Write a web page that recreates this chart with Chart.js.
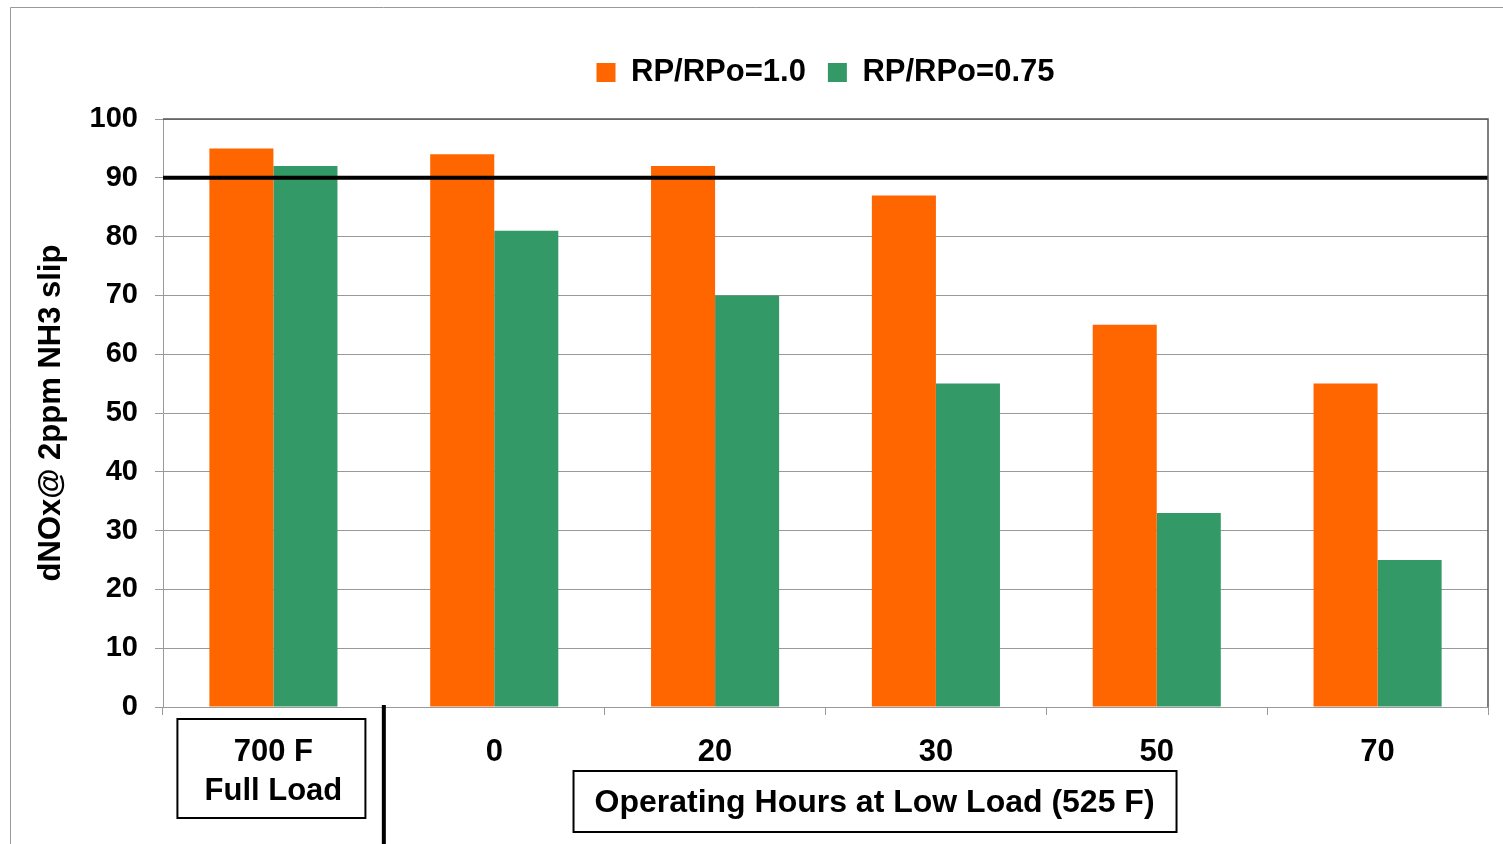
<!DOCTYPE html>
<html>
<head>
<meta charset="utf-8">
<script src="https://cdn.jsdelivr.net/npm/chart.js@4"></script>
<style>
  html, body { margin: 0; padding: 0; background: #fff; }
  #wrap { width: 1503px; height: 844px; }
</style>
</head>
<body>
<div id="wrap"><canvas id="chart"></canvas></div>
<script>
// data
const categories = [["700 F", "Full Load"], "0", "20", "30", "50", "70"];
const rp100 = [95, 94, 92, 87, 65, 55];   // RP/RPo=1.0
const rp075 = [92, 81, 70, 55, 33, 25];   // RP/RPo=0.75
const seriesNames = ["RP/RPo=1.0", "RP/RPo=0.75"];
const targetLine = 90;
const yTitle = "dNOx@ 2ppm NH3 slip";
const xTitle = "Operating Hours at Low Load (525 F)";

const FONT = "'Liberation Sans', Arial, sans-serif";

// extra drawing: frame, 90% line, boxes round the axis labels
const decorations = {
    id: 'decorations',
    afterInit(chart) {
        // leave some room between legend and plot
        const fit = chart.legend.fit;
        chart.legend.fit = function () {
            fit.call(this);
            this.height += 21;
        };
    },
    beforeDraw(chart) {
        const ctx = chart.ctx;
        ctx.save();
        ctx.strokeStyle = "#999";
        ctx.lineWidth = 1;
        ctx.beginPath();
        ctx.moveTo(10.5, chart.height);
        ctx.lineTo(10.5, 7.5);
        ctx.lineTo(chart.width, 7.5);
        ctx.stroke();
        ctx.restore();
    },
    afterDatasetsDraw(chart) {
        const ctx = chart.ctx;
        const area = chart.chartArea;
        const y = chart.scales.y.getPixelForValue(targetLine);
        ctx.save();
        ctx.strokeStyle = "#000";
        ctx.lineWidth = 4;
        ctx.beginPath();
        ctx.moveTo(area.left, y);
        ctx.lineTo(area.right, y);
        ctx.stroke();
        ctx.restore();
    },
    afterDraw(chart) {
        const ctx = chart.ctx;
        const area = chart.chartArea;
        const xs = chart.scales.x;
        ctx.save();

        // top and right edges of the plot
        ctx.strokeStyle = "#555";
        ctx.lineWidth = 1.5;
        ctx.beginPath();
        ctx.moveTo(area.left, area.top);
        ctx.lineTo(area.right, area.top);
        ctx.lineTo(area.right, area.bottom);
        ctx.stroke();

        // thick separator between full load and low load
        const sepX = (xs.getPixelForValue(0) + xs.getPixelForValue(1)) / 2;
        ctx.strokeStyle = "#000";
        ctx.lineWidth = 4;
        ctx.beginPath();
        ctx.moveTo(sepX, area.bottom - 2);
        ctx.lineTo(sepX, chart.height);
        ctx.stroke();

        // box round the first category label
        ctx.lineWidth = 2;
        const c0 = xs.getPixelForValue(0);
        ctx.strokeRect(c0 - 96, area.bottom + 12, 188, 99);

        // boxed x axis title
        const tx = area.left + (area.right - area.left) * 0.537;
        ctx.strokeRect(tx - 301, area.bottom + 64, 603, 61);
        ctx.fillStyle = "#000";
        ctx.font = "bold 32px " + FONT;
        ctx.textAlign = "center";
        ctx.textBaseline = "middle";
        ctx.fillText(xTitle, tx, area.bottom + 96);
        ctx.restore();
    }
};

const ctx = document.getElementById("chart").getContext("2d");
new Chart(ctx, {
    type: 'bar',
    data: {
        labels: categories,
        datasets: [{
            label: seriesNames[0],
            data: rp100,
            backgroundColor: "#FF6600",
            borderWidth: 0
        }, {
            label: seriesNames[1],
            data: rp075,
            backgroundColor: "#339966",
            borderWidth: 0
        }]
    },
    options: {
        responsive: true,
        maintainAspectRatio: false,
        animation: false,
        categoryPercentage: 0.58,
        barPercentage: 1.0,
        layout: { padding: { left: 0, right: 15, top: 35, bottom: 0 } },
        plugins: {
            tooltip: { enabled: false },
            legend: {
                position: 'top',
                fullSize: false,
                labels: {
                    color: "#000",
                    font: { family: FONT, size: 31, weight: 'bold' },
                    boxWidth: 19,
                    boxHeight: 19,
                    padding: 22
                }
            }
        },
        scales: {
            x: {
                grid: { drawOnChartArea: false, tickLength: 8, color: "#999" },
                border: { color: "#999" },
                ticks: {
                    color: "#000",
                    padding: 18,
                    maxRotation: 0,
                    autoSkip: false,
                    font: { family: FONT, size: 31, weight: 'bold', lineHeight: 1.25 }
                },
                afterFit(scale) { scale.height = 137; }
            },
            y: {
                min: 0,
                max: 100,
                ticks: {
                    stepSize: 10,
                    color: "#000",
                    padding: 17,
                    font: { family: FONT, size: 29, weight: 'bold' }
                },
                grid: { color: "#999", tickLength: 8 },
                border: { color: "#999" },
                title: {
                    display: true,
                    text: yTitle,
                    color: "#000",
                    padding: { top: 33, bottom: 0 },
                    font: { family: FONT, size: 31, weight: 'bold' }
                },
                afterFit(scale) { scale.width = 163; }
            }
        }
    },
    plugins: [decorations]
});
</script>
</body>
</html>
